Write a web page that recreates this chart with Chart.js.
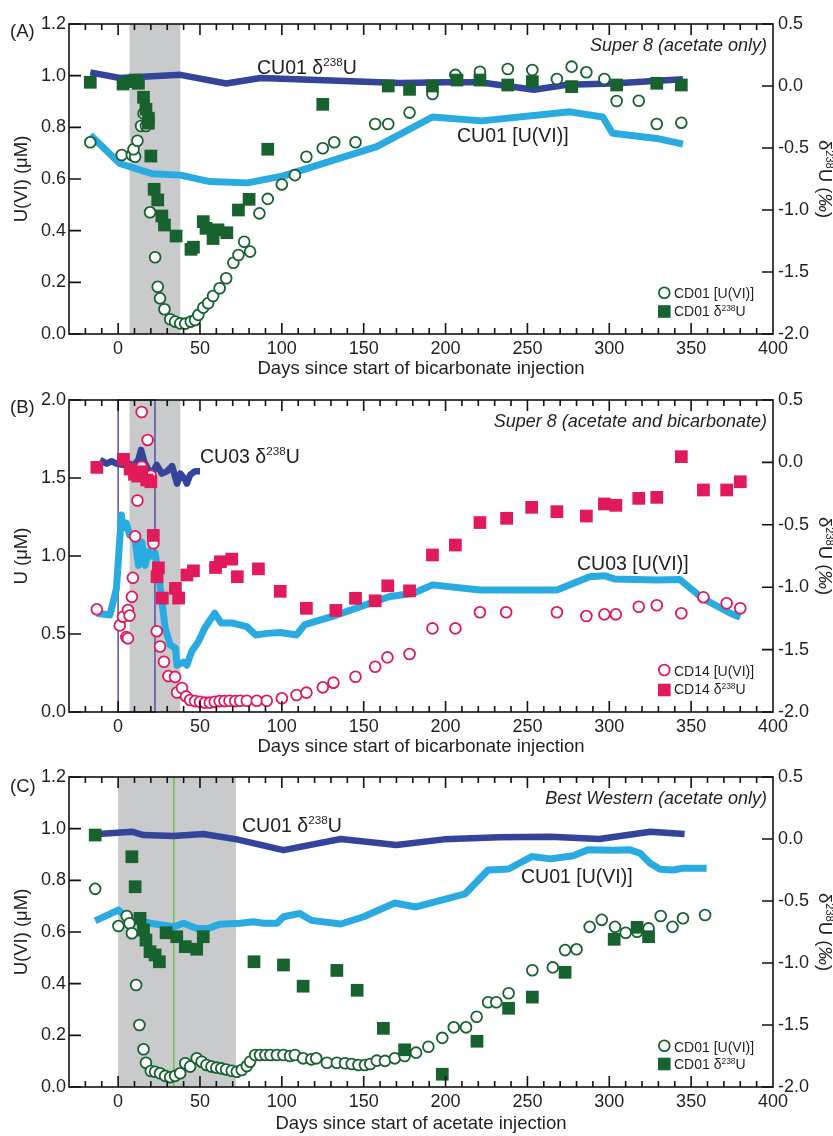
<!DOCTYPE html>
<html><head><meta charset="utf-8">
<script src="https://cdn.jsdelivr.net/npm/chart.js@4.4.1/dist/chart.umd.min.js"></script>
<style>html,body{margin:0;padding:0;background:#fff;}canvas{display:block;}</style>
</head><body>
<canvas id="cA" width="833" height="378"></canvas>
<canvas id="cB" width="833" height="378"></canvas>
<canvas id="cC" width="833" height="380"></canvas>
<script>
// ---------------- DATA ----------------
const X_TICKS = [0, 50, 100, 150, 200, 250, 300, 350, 400];
const Y_TICKS_A = [0, 0.2, 0.4, 0.6, 0.8, 1.0, 1.2];
const Y_TICKS_B = [0, 0.5, 1.0, 1.5, 2.0];
const D_TICKS = [-2.0, -1.5, -1.0, -0.5, 0.0, 0.5];

// Panel A : Super 8 (acetate only)
const A_U_LINE_DAYS = [-17, 1, 21, 38, 56, 79, 101, 158, 192, 222, 276, 296, 302, 329, 345];
const A_U_LINE_VALS = [0.77, 0.66, 0.62, 0.615, 0.59, 0.585, 0.612, 0.725, 0.84, 0.825, 0.86, 0.84, 0.777, 0.757, 0.735];
const A_D_LINE_DAYS = [-17, 1, 38, 66, 87, 130, 172, 201, 221, 254, 274, 302, 345];
const A_D_LINE_VALS = [0.11, 0.065, 0.09, 0.02, 0.065, 0.045, 0.025, 0.03, 0.03, -0.03, 0.01, 0.02, 0.055];
const A_CIRC_DAYS = [-17, 2.2, 8.4, 10.4, 9.4, 11.8, 14, 15.5, 17, 19.5, 22.6, 24.2, 25.6, 28.3, 31.8, 34.8, 37.9, 41, 44.4, 47, 49, 52, 55, 58, 62, 66, 70.4, 73.5, 77, 80.6, 86.3, 91.4, 100, 108, 115, 125, 132, 145, 157, 165, 178, 192, 206, 221, 238, 253, 268, 277, 286, 297, 304.5, 318, 329, 344];
const A_CIRC_VALS = [0.742, 0.693, 0.693, 0.686, 0.715, 0.748, 0.805, 0.854, 0.805, 0.471, 0.297, 0.183, 0.138, 0.096, 0.057, 0.048, 0.041, 0.04, 0.048, 0.054, 0.074, 0.102, 0.119, 0.147, 0.177, 0.216, 0.276, 0.306, 0.357, 0.319, 0.467, 0.523, 0.579, 0.615, 0.686, 0.719, 0.742, 0.742, 0.813, 0.813, 0.857, 0.929, 1.003, 1.015, 1.026, 1.022, 0.987, 1.035, 1.013, 0.987, 0.902, 0.903, 0.813, 0.818];
const A_SQ_DAYS = [-17, 3, 7.3, 10.4, 12.4, 15.5, 17, 18.5, 18.5, 20, 22, 24.2, 26.7, 28.3, 35.4, 44.5, 46, 52, 53.7, 58, 61, 66.4, 73.5, 80, 91.4, 125, 165, 178, 192, 207, 221, 238, 253, 277, 304.5, 329, 344];
const A_SQ_VALS = [0.03, 0.016, 0.035, 0.048, 0.022, -0.091, -0.188, -0.26, -0.30, -0.565, -0.833, -0.919, -1.048, -1.121, -1.21, -1.317, -1.30, -1.094, -1.148, -1.23, -1.16, -1.183, -1.0, -0.914, -0.51, -0.148, 0.0, -0.027, 0.0, 0.048, 0.048, 0.008, 0.035, -0.005, 0.008, 0.022, 0.008];

// Panel B : Super 8 (acetate and bicarbonate)
const B_U_LINE_DAYS = [-13, -5, -1, 2, 3, 5, 7, 10, 12.4, 14.5, 16.5, 18.5, 20.6, 22.6, 25.6, 28.7, 31.8, 35, 36, 40, 42, 45, 49, 53, 59, 63, 70, 78.6, 84, 91, 99, 109, 114, 133, 152, 166, 180, 192, 221, 268, 288, 297, 303, 329, 343, 357, 374, 380];
const B_U_LINE_VALS = [0.633, 0.622, 0.793, 1.263, 1.18, 1.21, 1.135, 1.135, 0.94, 1.09, 0.94, 1.03, 1.0, 1.02, 0.81, 0.54, 0.43, 0.41, 0.30, 0.32, 0.30, 0.39, 0.45, 0.54, 0.633, 0.57, 0.57, 0.547, 0.494, 0.504, 0.51, 0.494, 0.56, 0.62, 0.69, 0.74, 0.76, 0.815, 0.782, 0.782, 0.867, 0.874, 0.853, 0.846, 0.85, 0.728, 0.633, 0.607];
const B_D_LINE_DAYS = [-11, -7, -4, -1, 3, 7, 9, 12.4, 14, 16, 18.5, 20.6, 23.6, 26.7, 30, 33, 36, 38, 41, 42, 44, 47, 50];
const B_D_LINE_VALS = [0.02, -0.01, 0.01, -0.01, -0.02, -0.01, -0.03, 0.02, 0.1, 0.005, -0.06, -0.09, -0.02, -0.09, -0.07, -0.03, -0.17, -0.09, -0.14, -0.17, -0.1, -0.07, -0.07];
const B_CIRC_DAYS = [-13, 1, 3, 5, 6, 6, 7, 8.4, 9, 10.4, 11.8, 14.4, 14.4, 18, 20, 21.6, 23.6, 25.6, 28, 30.7, 34.8, 36, 39, 41.5, 44, 47, 50, 53, 56, 59, 62, 65, 68, 71.5, 74.5, 78.6, 84.7, 90.8, 100, 109, 115, 125, 131.5, 145, 157, 164.5, 178, 192, 206, 221, 237, 268, 286, 297, 304, 318, 329, 344, 357.5, 371.7, 380];
const B_CIRC_VALS = [0.658, 0.555, 0.611, 0.48, 0.472, 0.654, 0.618, 0.738, 0.86, 1.126, 1.356, 1.572, 1.923, 1.744, 1.515, 1.081, 0.518, 0.42, 0.322, 0.23, 0.225, 0.125, 0.154, 0.1, 0.077, 0.07, 0.065, 0.06, 0.06, 0.065, 0.07, 0.07, 0.072, 0.07, 0.072, 0.072, 0.072, 0.072, 0.088, 0.109, 0.124, 0.158, 0.188, 0.226, 0.29, 0.35, 0.372, 0.536, 0.536, 0.639, 0.639, 0.639, 0.615, 0.626, 0.626, 0.675, 0.684, 0.633, 0.736, 0.697, 0.665];
const B_SQ_DAYS = [-13, 3.3, 7.3, 10, 12, 14.4, 17.5, 20, 21.5, 24.6, 23.8, 27, 35, 37, 42, 46, 59.5, 62.5, 69.4, 72.8, 85.7, 99, 115, 133, 145, 157, 164.7, 178, 192, 206, 221, 237.3, 252.6, 268, 286, 297, 304, 318, 329, 344, 357.5, 371.7, 380];
const B_SQ_VALS = [-0.04, 0.025, -0.053, -0.095, -0.11, -0.075, -0.141, -0.155, -0.585, -0.845, -0.916, -1.087, -1.009, -1.087, -0.902, -0.869, -0.842, -0.796, -0.775, -0.916, -0.853, -1.033, -1.169, -1.186, -1.089, -1.109, -0.989, -1.029, -0.742, -0.662, -0.482, -0.448, -0.36, -0.395, -0.43, -0.333, -0.344, -0.288, -0.28, 0.046, -0.221, -0.221, -0.155];

// Panel C : Best Western (acetate only)
const C_U_LINE_DAYS = [-14, 0, 5, 19.5, 33.8, 40, 48, 55, 62, 74.5, 82.6, 88.7, 97, 101, 111, 118, 136, 150, 169, 182, 212, 226, 238.5, 252.6, 264, 278, 287, 302.5, 312.7, 318.8, 325, 331, 339, 345, 359.5];
const C_U_LINE_VALS = [0.643, 0.685, 0.659, 0.634, 0.62, 0.634, 0.614, 0.614, 0.63, 0.634, 0.64, 0.634, 0.634, 0.659, 0.672, 0.645, 0.631, 0.659, 0.712, 0.697, 0.748, 0.84, 0.844, 0.892, 0.883, 0.895, 0.918, 0.916, 0.918, 0.905, 0.866, 0.843, 0.84, 0.847, 0.847];
const C_D_LINE_DAYS = [-14, 8.4, 15.5, 33.8, 52, 72.5, 101, 136, 170, 199, 233, 264, 294, 325, 346];
const C_D_LINE_VALS = [0.038, 0.059, 0.032, 0.024, 0.04, -0.003, -0.09, 0.0, -0.048, -0.003, 0.014, 0.019, 0.0, 0.059, 0.04];
const C_CIRC_DAYS = [-14, 0.2, 5.3, 7, 8.4, 11, 13, 15.5, 17, 20, 22.6, 25.6, 28.7, 31.8, 34.8, 37.9, 41, 44, 48, 51, 54, 57, 60, 63, 66, 69.4, 72.5, 75.5, 78.6, 80.6, 83.7, 86.7, 90, 93, 97, 101, 105, 108, 113, 118, 121, 127.5, 133.6, 138.6, 142.7, 146.8, 150.8, 154, 158, 163, 169, 175, 182, 189.5, 198, 205, 212.5, 219, 226, 231, 238.5, 253, 265.5, 273, 280, 288, 295.4, 303.5, 310, 317, 324, 331.4, 338.6, 345, 358.5];
const C_CIRC_VALS = [0.767, 0.623, 0.662, 0.634, 0.595, 0.395, 0.24, 0.146, 0.094, 0.062, 0.059, 0.053, 0.043, 0.038, 0.043, 0.053, 0.092, 0.079, 0.111, 0.098, 0.085, 0.079, 0.075, 0.072, 0.068, 0.063, 0.059, 0.066, 0.081, 0.098, 0.124, 0.124, 0.124, 0.124, 0.124, 0.124, 0.12, 0.124, 0.111, 0.107, 0.111, 0.094, 0.094, 0.092, 0.089, 0.085, 0.085, 0.089, 0.102, 0.101, 0.111, 0.12, 0.133, 0.156, 0.19, 0.231, 0.231, 0.272, 0.328, 0.328, 0.363, 0.452, 0.463, 0.53, 0.533, 0.62, 0.647, 0.62, 0.597, 0.601, 0.614, 0.662, 0.62, 0.653, 0.666];
const C_SQ_DAYS = [-14, 8.4, 10.4, 13.4, 15.5, 17, 19.5, 22.6, 25.2, 29.3, 35.8, 41, 48, 52, 83, 101, 113, 133.6, 146, 162, 175, 198, 219.2, 238.5, 253, 273, 303, 317, 324];
const C_SQ_VALS = [0.032, -0.143, -0.385, -0.64, -0.734, -0.815, -0.909, -0.935, -0.99, -0.756, -0.788, -0.868, -0.889, -0.788, -0.99, -1.016, -1.187, -1.06, -1.22, -1.527, -1.7, -1.897, -1.631, -1.365, -1.275, -1.075, -0.809, -0.712, -0.788];

// ---------------- STYLE ----------------
const FONT = "'Liberation Sans', Arial, Helvetica, sans-serif";
const TXT = '#1f1f1f';
const GREEN = '#17622f', PINK = '#e01a5b', DBLUE = '#33449a', LBLUE = '#29abe2';
const GRAY = '#c9cacc', PURPLE = '#5b4ea3', LGREEN = '#72c04b';

Chart.defaults.font.family = FONT;
Chart.defaults.color = TXT;

const pts = (d, v) => d.map((x, i) => ({x: x, y: v[i]}));

function richText(ctx, x, y, parts, size, align, style) {
  style = style || '';
  let w = 0;
  parts.forEach(p => { ctx.font = (p[2] || style) + ' ' + (p[1] ? size * 0.6 : size) + 'px ' + FONT; w += ctx.measureText(p[0]).width; });
  let cx = align === 'right' ? x - w : (align === 'center' ? x - w / 2 : x);
  ctx.textBaseline = 'alphabetic'; ctx.textAlign = 'left';
  parts.forEach(p => {
    ctx.font = (p[2] || style) + ' ' + (p[1] ? size * 0.6 : size) + 'px ' + FONT;
    ctx.fillText(p[0], cx, p[1] ? y - size * 0.4 : y);
    cx += ctx.measureText(p[0]).width;
  });
}

const framePlugin = {
  id: 'frame',
  beforeDatasetsDraw(chart, args, o) {
    const {ctx, chartArea: {left, right, top, bottom}, scales: {x}} = chart;
    ctx.save();
    (o.bands || []).forEach(b => {
      const x0 = x.getPixelForValue(b[0]), x1 = x.getPixelForValue(b[1]);
      ctx.fillStyle = GRAY; ctx.fillRect(x0, top, x1 - x0, bottom - top);
    });
    if (o.box) {
      const x0 = x.getPixelForValue(o.box[0]), x1 = x.getPixelForValue(o.box[1]);
      ctx.strokeStyle = PURPLE; ctx.lineWidth = 1.5;
      ctx.strokeRect(x0, top, x1 - x0, bottom - top);
    }
    if (o.vline != null) {
      const xv = x.getPixelForValue(o.vline);
      ctx.strokeStyle = LGREEN; ctx.lineWidth = 1.6;
      ctx.beginPath(); ctx.moveTo(xv, top); ctx.lineTo(xv, bottom); ctx.stroke();
    }
    ctx.restore();
  },
  afterDraw(chart, args, o) {
    const {ctx, chartArea: {left, right, top, bottom}, scales: {x, yL, yR}} = chart;
    ctx.save();
    ctx.strokeStyle = '#111'; ctx.lineWidth = 1.6;
    ctx.strokeRect(left, top, right - left, bottom - top);
    ctx.beginPath();
    for (let v = -20; v < 400; v += 10) {
      const px = x.getPixelForValue(v);
      const len = v % 50 === 0 ? 11 : 6;
      ctx.moveTo(px, bottom); ctx.lineTo(px, bottom - len);
      ctx.moveTo(px, top); ctx.lineTo(px, top + len);
    }
    yL.ticks.forEach(t => { const py = yL.getPixelForValue(t.value); ctx.moveTo(left, py); ctx.lineTo(left + 12, py); });
    yR.ticks.forEach(t => { const py = yR.getPixelForValue(t.value); ctx.moveTo(right, py); ctx.lineTo(right - 11, py); });
    ctx.stroke();

    ctx.fillStyle = TXT;
    // right axis title
    ctx.save();
    ctx.translate(825, (top + bottom) / 2);
    ctx.rotate(Math.PI / 2);
    richText(ctx, 0, 6.5, [['δ'], ['238', true], ['U ('], ['‰', false, 'italic'], [')']], 18.5, 'center');
    ctx.restore();
    // panel label
    ctx.font = '18.5px ' + FONT; ctx.textAlign = 'left'; ctx.textBaseline = 'alphabetic';
    ctx.fillText(o.panel, 10, o.panelY);
    // site label
    richText(ctx, 767, o.siteY, [[o.site]], 18, 'right', 'italic');
    // annotations
    o.notes.forEach(n => richText(ctx, n.x, n.y, n.parts, 19.5, 'left'));
    // legend
    const lg = o.legend;
    ctx.beginPath(); ctx.arc(664.3, lg.cy, 5.4, 0, Math.PI * 2);
    ctx.fillStyle = '#fff'; ctx.fill(); ctx.strokeStyle = lg.color; ctx.lineWidth = 1.8; ctx.stroke();
    ctx.fillStyle = lg.color; ctx.fillRect(664.3 - 6.3, lg.sy - 6.3, 12.6, 12.6);
    ctx.fillStyle = TXT;
    richText(ctx, 674, lg.cb, [[lg.name + ' [U(VI)]']], 14, 'left');
    richText(ctx, 674, lg.sb, [[lg.name + ' δ'], ['238', true], ['U']], 14, 'left');
    ctx.restore();
  }
};

function makeChart(id, c) {
  return new Chart(document.getElementById(id), {
    type: 'scatter',
    data: {datasets: [
      {data: c.sq, yAxisID: 'yR', pointStyle: 'rect', pointRadius: 9, pointBorderWidth: 0, borderWidth: 0, backgroundColor: c.color, borderColor: c.color},
      {data: c.circ, yAxisID: 'yL', pointStyle: 'circle', pointRadius: 5.4, borderWidth: 1.8, backgroundColor: '#fff', borderColor: c.color},
      {data: c.dLine, yAxisID: 'yR', showLine: true, pointRadius: 0, borderColor: DBLUE, borderWidth: 6.5, borderJoinStyle: 'round', tension: 0},
      {data: c.uLine, yAxisID: 'yL', showLine: true, pointRadius: 0, borderColor: LBLUE, borderWidth: 7, borderJoinStyle: 'round', tension: 0}
    ]},
    options: {
      responsive: false, animation: false, devicePixelRatio: 1,
      layout: {padding: {top: c.top, left: 0, right: 0, bottom: 0}},
      plugins: {legend: {display: false}, tooltip: {enabled: false}, frame: c.frame},
      scales: {
        x: {type: 'linear', position: 'bottom', min: -30, max: 400,
          afterBuildTicks: s => { s.ticks = X_TICKS.map(v => ({value: v})); },
          afterFit: s => { s.height = c.xh; },
          ticks: {font: {size: 18}, padding: 4, color: TXT, maxRotation: 0, autoSkip: false, callback: v => String(v)},
          grid: {display: false, drawTicks: false}, border: {display: false},
          title: {display: true, text: c.xTitle, color: TXT, font: {size: 18.5, lineHeight: 1}, padding: {top: 0, bottom: c.xtPad}}},
        yL: {type: 'linear', position: 'left', min: 0, max: c.yMax,
          afterBuildTicks: s => { s.ticks = c.yTicks.map(v => ({value: v})); },
          afterFit: s => { s.width = 69; },
          ticks: {font: {size: 18}, padding: 3, color: TXT, callback: v => v.toFixed(1)},
          grid: {display: false, drawTicks: false}, border: {display: false},
          title: {display: true, text: c.yTitle, color: TXT, font: {size: 18.5, lineHeight: 1}, padding: {top: 13, bottom: 0}}},
        yR: {type: 'linear', position: 'right', min: -2, max: 0.5,
          afterBuildTicks: s => { s.ticks = D_TICKS.map(v => ({value: v})); },
          afterFit: s => { s.width = 60; },
          ticks: {font: {size: 18}, padding: 5, color: TXT, callback: v => v.toFixed(1)},
          grid: {display: false, drawTicks: false}, border: {display: false}}
      }
    },
    plugins: [framePlugin]
  });
}

makeChart('cA', {
  sq: pts(A_SQ_DAYS, A_SQ_VALS), circ: pts(A_CIRC_DAYS, A_CIRC_VALS),
  dLine: pts(A_D_LINE_DAYS, A_D_LINE_VALS), uLine: pts(A_U_LINE_DAYS, A_U_LINE_VALS),
  color: GREEN, top: 24, xh: 44, xtPad: 0, yMax: 1.2, yTicks: Y_TICKS_A,
  xTitle: 'Days since start of bicarbonate injection', yTitle: 'U(VI) (μM)',
  frame: {bands: [[7, 38]], panel: '(A)', panelY: 37.3, site: 'Super 8 (acetate only)', siteY: 50.7,
    notes: [{x: 257, y: 73.5, parts: [['CU01 δ'], ['238', true], ['U']]}, {x: 457, y: 141.5, parts: [['CU01 [U(VI)]']]}],
    legend: {name: 'CD01', color: GREEN, cy: 292.7, cb: 298.3, sy: 311.5, sb: 316.3}}
});

makeChart('cB', {
  sq: pts(B_SQ_DAYS, B_SQ_VALS), circ: pts(B_CIRC_DAYS, B_CIRC_VALS),
  dLine: pts(B_D_LINE_DAYS, B_D_LINE_VALS), uLine: pts(B_U_LINE_DAYS, B_U_LINE_VALS),
  color: PINK, top: 22, xh: 44, xtPad: 0, yMax: 2.0, yTicks: Y_TICKS_B,
  xTitle: 'Days since start of bicarbonate injection', yTitle: 'U (μM)',
  frame: {bands: [[7, 38]], box: [0, 22.5], panel: '(B)', panelY: 35.3, site: 'Super 8 (acetate and bicarbonate)', siteY: 48.7,
    notes: [{x: 200, y: 84.7, parts: [['CU03 δ'], ['238', true], ['U']]}, {x: 577, y: 192, parts: [['CU03 [U(VI)]']]}],
    legend: {name: 'CD14', color: PINK, cy: 292, cb: 297.7, sy: 312, sb: 316.3}}
});

makeChart('cC', {
  sq: pts(C_SQ_DAYS, C_SQ_VALS), circ: pts(C_CIRC_DAYS, C_CIRC_VALS),
  dLine: pts(C_D_LINE_DAYS, C_D_LINE_VALS), uLine: pts(C_U_LINE_DAYS, C_U_LINE_VALS),
  color: GREEN, top: 21, xh: 49, xtPad: 3, yMax: 1.2, yTicks: Y_TICKS_A,
  xTitle: 'Days since start of acetate injection', yTitle: 'U(VI) (μM)',
  frame: {bands: [[0, 72]], vline: 34, panel: '(C)', panelY: 36.3, site: 'Best Western (acetate only)', siteY: 48,
    notes: [{x: 242, y: 75.7, parts: [['CU01 δ'], ['238', true], ['U']]}, {x: 521, y: 126.7, parts: [['CU01 [U(VI)]']]}],
    legend: {name: 'CD01', color: GREEN, cy: 289.7, cb: 295.7, sy: 308, sb: 313.3}}
});
</script>
</body></html>
